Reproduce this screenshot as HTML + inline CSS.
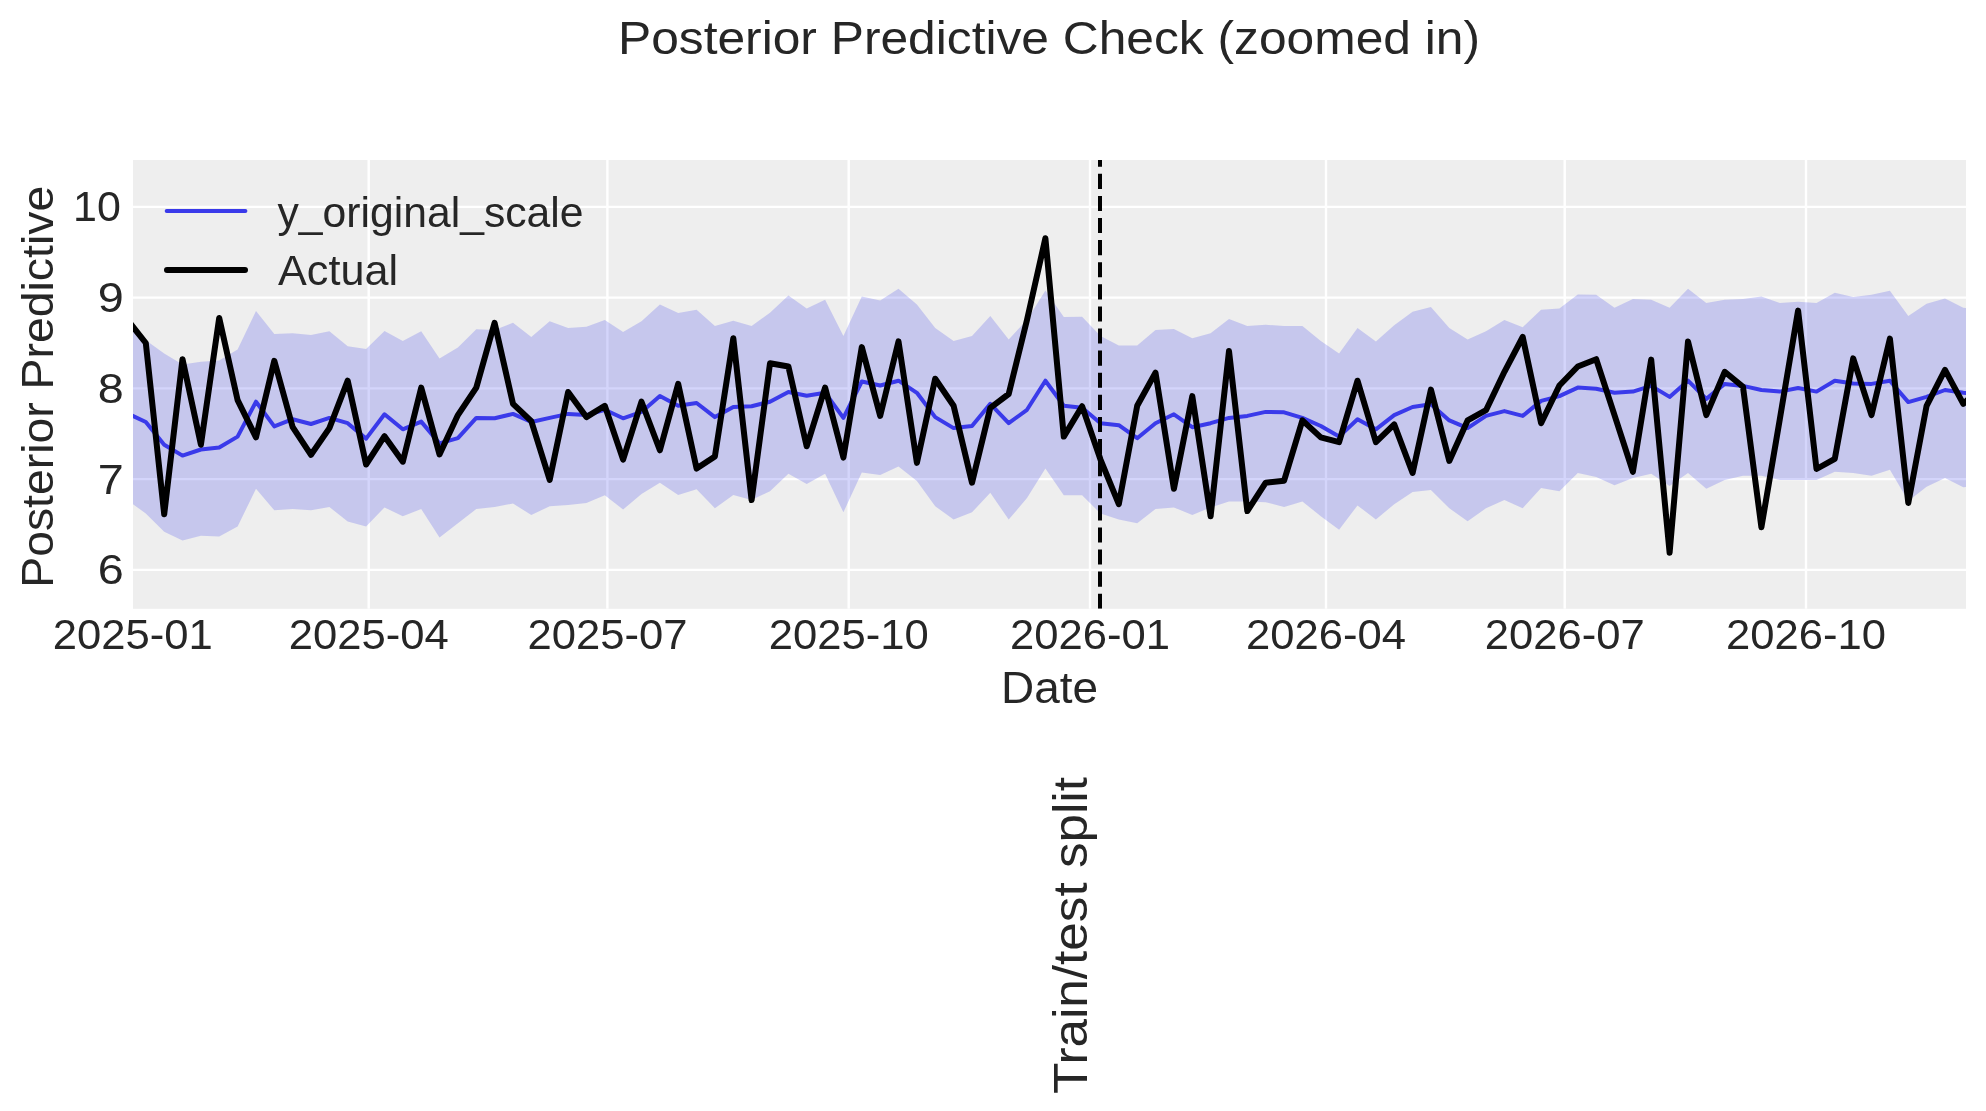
<!DOCTYPE html><html><head><meta charset="utf-8"><style>html,body{margin:0;padding:0;background:#fff;width:1986px;height:1111px;overflow:hidden}svg{display:block;-webkit-font-smoothing:antialiased;will-change:transform}</style></head><body>
<svg width="1986" height="1111" viewBox="0 0 1986 1111" font-family='"Liberation Sans", sans-serif'>
<defs><clipPath id="ax"><rect x="133" y="160" width="1833" height="448.8"/></clipPath></defs>
<rect x="133.0" y="160.0" width="1833.0" height="448.8" fill="#eeeeee"/>
<path d="M368.7,160.0 L368.7,608.8 M607.4,160.0 L607.4,608.8 M848.7,160.0 L848.7,608.8 M1090.0,160.0 L1090.0,608.8 M1326.0,160.0 L1326.0,608.8 M1564.7,160.0 L1564.7,608.8 M1806.0,160.0 L1806.0,608.8 M133.0,206.9 L1966.0,206.9 M133.0,297.6 L1966.0,297.6 M133.0,388.4 L1966.0,388.4 M133.0,479.1 L1966.0,479.1 M133.0,569.9 L1966.0,569.9" stroke="#ffffff" stroke-width="2.4" fill="none"/>
<g clip-path="url(#ax)">
<path d="M127.4,320.3 L145.8,340.2 L164.2,353.6 L182.5,364.5 L200.9,361.7 L219.2,360.4 L237.6,349.5 L256.0,311.0 L274.3,334.1 L292.7,333.3 L311.0,334.9 L329.4,331.3 L347.7,346.3 L366.1,349.1 L384.5,330.9 L402.8,341.0 L421.2,331.3 L439.5,358.4 L457.9,347.5 L476.3,329.3 L494.6,330.1 L513.0,322.8 L531.3,337.0 L549.7,321.2 L568.1,328.0 L586.4,326.8 L604.8,319.9 L623.1,332.1 L641.5,321.2 L659.9,304.6 L678.2,313.1 L696.6,309.8 L714.9,326.0 L733.3,320.8 L751.6,326.0 L770.0,312.7 L788.4,295.6 L806.7,308.6 L825.1,299.7 L843.4,336.1 L861.8,296.5 L880.2,300.5 L898.5,288.8 L916.9,304.6 L935.2,328.0 L953.6,341.0 L972.0,336.1 L990.3,315.9 L1008.7,339.4 L1027.0,319.9 L1045.4,290.4 L1063.8,317.1 L1082.1,316.7 L1100.5,336.1 L1118.8,345.5 L1137.2,345.5 L1155.5,330.1 L1173.9,328.9 L1192.3,338.2 L1210.6,333.3 L1229.0,319.1 L1247.3,326.0 L1265.7,324.8 L1284.1,326.0 L1302.4,326.0 L1320.8,341.0 L1339.1,353.6 L1357.5,328.0 L1375.9,341.4 L1394.2,325.2 L1412.6,311.8 L1430.9,307.0 L1449.3,328.0 L1467.6,339.4 L1486.0,331.3 L1504.4,319.9 L1522.7,327.2 L1541.1,309.8 L1559.4,308.6 L1577.8,294.4 L1596.2,294.8 L1614.5,307.8 L1632.9,298.9 L1651.2,299.7 L1669.6,307.8 L1688.0,288.8 L1706.3,302.9 L1724.7,299.7 L1743.0,298.9 L1761.4,296.5 L1779.8,302.9 L1798.1,301.7 L1816.5,302.9 L1834.8,292.8 L1853.2,296.9 L1871.5,294.8 L1889.9,290.8 L1908.3,315.9 L1926.6,303.7 L1945.0,298.5 L1963.3,307.8 L1981.7,309.0 L1981.7,486.0 L1963.3,487.2 L1945.0,477.9 L1926.6,486.8 L1908.3,500.9 L1889.9,469.8 L1871.5,475.8 L1853.2,473.0 L1834.8,471.8 L1816.5,479.9 L1798.1,479.9 L1779.8,479.9 L1761.4,475.8 L1743.0,475.8 L1724.7,479.9 L1706.3,488.8 L1688.0,473.0 L1669.6,486.0 L1651.2,473.8 L1632.9,477.9 L1614.5,485.2 L1596.2,477.1 L1577.8,473.0 L1559.4,491.2 L1541.1,488.0 L1522.7,508.2 L1504.4,500.1 L1486.0,508.2 L1467.6,521.2 L1449.3,508.2 L1430.9,490.0 L1412.6,492.0 L1394.2,504.2 L1375.9,519.6 L1357.5,505.4 L1339.1,529.7 L1320.8,516.3 L1302.4,501.4 L1284.1,507.0 L1265.7,502.2 L1247.3,501.4 L1229.0,501.4 L1210.6,507.4 L1192.3,515.1 L1173.9,507.4 L1155.5,509.0 L1137.2,523.2 L1118.8,519.6 L1100.5,513.5 L1082.1,495.3 L1063.8,495.3 L1045.4,468.6 L1027.0,498.1 L1008.7,519.6 L990.3,492.8 L972.0,512.3 L953.6,519.6 L935.2,506.2 L916.9,481.1 L898.5,466.5 L880.2,475.0 L861.8,472.6 L843.4,512.3 L825.1,473.8 L806.7,483.9 L788.4,473.8 L770.0,491.2 L751.6,500.1 L733.3,494.9 L714.9,508.2 L696.6,489.2 L678.2,494.9 L659.9,482.7 L641.5,494.1 L623.1,509.4 L604.8,495.3 L586.4,503.0 L568.1,505.0 L549.7,506.2 L531.3,515.1 L513.0,503.4 L494.6,507.0 L476.3,509.0 L457.9,523.2 L439.5,537.4 L421.2,509.0 L402.8,516.3 L384.5,507.4 L366.1,526.5 L347.7,521.6 L329.4,507.0 L311.0,510.3 L292.7,509.0 L274.3,510.3 L256.0,488.8 L237.6,526.5 L219.2,536.6 L200.9,535.8 L182.5,540.6 L164.2,531.7 L145.8,513.5 L127.4,500.1 Z" fill="#2a2eec" fill-opacity="0.2" stroke="none"/>
<path d="M127.4,413.3 L145.8,422.0 L164.2,444.7 L182.5,455.6 L200.9,449.5 L219.2,447.5 L237.6,436.6 L256.0,401.7 L274.3,426.4 L292.7,419.2 L311.0,424.0 L329.4,417.9 L347.7,423.2 L366.1,438.6 L384.5,414.3 L402.8,429.3 L421.2,421.6 L439.5,443.4 L457.9,438.2 L476.3,417.9 L494.6,418.3 L513.0,413.9 L531.3,422.0 L549.7,417.9 L568.1,413.9 L586.4,415.1 L604.8,409.8 L623.1,418.3 L641.5,411.9 L659.9,396.1 L678.2,405.8 L696.6,403.0 L714.9,417.1 L733.3,407.0 L751.6,406.2 L770.0,401.7 L788.4,392.0 L806.7,395.7 L825.1,392.8 L843.4,417.9 L861.8,381.5 L880.2,385.5 L898.5,380.7 L916.9,392.8 L935.2,417.1 L953.6,428.1 L972.0,426.0 L990.3,403.8 L1008.7,423.2 L1027.0,409.8 L1045.4,380.7 L1063.8,405.8 L1082.1,407.8 L1100.5,423.2 L1118.8,425.2 L1137.2,438.2 L1155.5,423.2 L1173.9,414.3 L1192.3,427.2 L1210.6,423.2 L1229.0,417.9 L1247.3,415.9 L1265.7,411.9 L1284.1,412.3 L1302.4,417.9 L1320.8,426.0 L1339.1,436.6 L1357.5,419.2 L1375.9,429.3 L1394.2,415.1 L1412.6,407.0 L1430.9,404.2 L1449.3,420.4 L1467.6,428.1 L1486.0,415.9 L1504.4,411.1 L1522.7,415.9 L1541.1,400.9 L1559.4,396.1 L1577.8,387.6 L1596.2,388.8 L1614.5,392.8 L1632.9,391.6 L1651.2,385.9 L1669.6,396.9 L1688.0,380.7 L1706.3,398.9 L1724.7,383.9 L1743.0,385.9 L1761.4,390.0 L1779.8,391.6 L1798.1,388.0 L1816.5,391.6 L1834.8,380.7 L1853.2,383.5 L1871.5,383.9 L1889.9,380.7 L1908.3,402.1 L1926.6,396.9 L1945.0,390.0 L1963.3,392.8 L1981.7,394.0" fill="none" stroke="#3a3aea" stroke-width="4" stroke-linejoin="round" stroke-linecap="round"/>
<path d="M127.4,319.9 L145.8,343.0 L164.2,514.3 L182.5,359.2 L200.9,444.7 L219.2,317.9 L237.6,400.1 L256.0,437.4 L274.3,360.8 L292.7,427.2 L311.0,454.8 L329.4,428.1 L347.7,380.7 L366.1,464.5 L384.5,436.2 L402.8,461.7 L421.2,387.6 L439.5,454.4 L457.9,415.1 L476.3,387.6 L494.6,322.8 L513.0,403.8 L531.3,421.2 L549.7,479.9 L568.1,392.0 L586.4,417.1 L604.8,405.8 L623.1,459.6 L641.5,401.7 L659.9,450.3 L678.2,383.9 L696.6,468.6 L714.9,456.4 L733.3,338.2 L751.6,500.1 L770.0,363.3 L788.4,366.5 L806.7,446.3 L825.1,387.6 L843.4,457.6 L861.8,347.1 L880.2,415.9 L898.5,341.4 L916.9,462.9 L935.2,378.7 L953.6,405.8 L972.0,482.7 L990.3,407.8 L1008.7,394.0 L1027.0,319.9 L1045.4,238.2 L1063.8,436.6 L1082.1,406.2 L1100.5,459.6 L1118.8,504.2 L1137.2,405.8 L1155.5,372.6 L1173.9,488.8 L1192.3,396.1 L1210.6,516.3 L1229.0,351.1 L1247.3,511.1 L1265.7,482.7 L1284.1,480.7 L1302.4,420.4 L1320.8,437.4 L1339.1,442.2 L1357.5,380.7 L1375.9,442.2 L1394.2,424.4 L1412.6,473.0 L1430.9,389.6 L1449.3,460.9 L1467.6,420.4 L1486.0,410.2 L1504.4,371.8 L1522.7,337.0 L1541.1,423.2 L1559.4,385.5 L1577.8,366.5 L1596.2,359.2 L1614.5,415.1 L1632.9,471.8 L1651.2,359.6 L1669.6,552.8 L1688.0,341.4 L1706.3,415.1 L1724.7,371.8 L1743.0,386.8 L1761.4,527.3 L1779.8,419.2 L1798.1,310.6 L1816.5,469.0 L1834.8,458.8 L1853.2,358.4 L1871.5,415.1 L1889.9,338.6 L1908.3,503.0 L1926.6,405.8 L1945.0,369.8 L1963.3,403.8 L1981.7,386.8" fill="none" stroke="#000000" stroke-width="6" stroke-linejoin="round" stroke-linecap="round"/>
<path d="M1100,608.8 L1100,160" stroke="#000" stroke-width="4" stroke-dasharray="15.1 7" fill="none"/>
</g>

<text x="618" y="53.7" font-size="47" fill="#262626" textLength="862" lengthAdjust="spacingAndGlyphs">Posterior Predictive Check (zoomed in)</text>
<text x="73.0" y="221.4" font-size="42" fill="#262626" textLength="47.8" lengthAdjust="spacingAndGlyphs">10</text>
<text x="97.7" y="312.1" font-size="42" fill="#262626" textLength="26" lengthAdjust="spacingAndGlyphs">9</text>
<text x="97.7" y="402.9" font-size="42" fill="#262626" textLength="26" lengthAdjust="spacingAndGlyphs">8</text>
<text x="97.7" y="493.6" font-size="42" fill="#262626" textLength="26" lengthAdjust="spacingAndGlyphs">7</text>
<text x="97.7" y="584.4" font-size="42" fill="#262626" textLength="26" lengthAdjust="spacingAndGlyphs">6</text>
<text x="52.7" y="648.8" font-size="42" fill="#262626" textLength="160" lengthAdjust="spacingAndGlyphs">2025-01</text>
<text x="288.7" y="648.8" font-size="42" fill="#262626" textLength="160" lengthAdjust="spacingAndGlyphs">2025-04</text>
<text x="527.4" y="648.8" font-size="42" fill="#262626" textLength="160" lengthAdjust="spacingAndGlyphs">2025-07</text>
<text x="768.7" y="648.8" font-size="42" fill="#262626" textLength="160" lengthAdjust="spacingAndGlyphs">2025-10</text>
<text x="1010.0" y="648.8" font-size="42" fill="#262626" textLength="160" lengthAdjust="spacingAndGlyphs">2026-01</text>
<text x="1246.0" y="648.8" font-size="42" fill="#262626" textLength="160" lengthAdjust="spacingAndGlyphs">2026-04</text>
<text x="1484.7" y="648.8" font-size="42" fill="#262626" textLength="160" lengthAdjust="spacingAndGlyphs">2026-07</text>
<text x="1726.0" y="648.8" font-size="42" fill="#262626" textLength="160" lengthAdjust="spacingAndGlyphs">2026-10</text>
<text x="1001" y="702.9" font-size="44.5" fill="#262626" textLength="97" lengthAdjust="spacingAndGlyphs">Date</text>
<text transform="translate(52.9,587.8) rotate(-90)" x="0" y="0" font-size="44.5" fill="#262626" textLength="402" lengthAdjust="spacingAndGlyphs">Posterior Predictive</text>
<text transform="translate(1086.8,1094) rotate(-90)" x="0" y="0" font-size="47.5" fill="#262626" textLength="317" lengthAdjust="spacingAndGlyphs">Train/test split</text>
<path d="M166.7,211 L245.4,211" stroke="#3a3aea" stroke-width="4" stroke-linecap="round"/>
<path d="M167,270 L245,270" stroke="#000" stroke-width="6" stroke-linecap="round"/>
<text x="277.5" y="226.5" font-size="42.5" fill="#262626" textLength="306" lengthAdjust="spacingAndGlyphs">y_original_scale</text>
<text x="278" y="285.4" font-size="42.5" fill="#262626" textLength="120" lengthAdjust="spacingAndGlyphs">Actual</text>
</svg></body></html>
